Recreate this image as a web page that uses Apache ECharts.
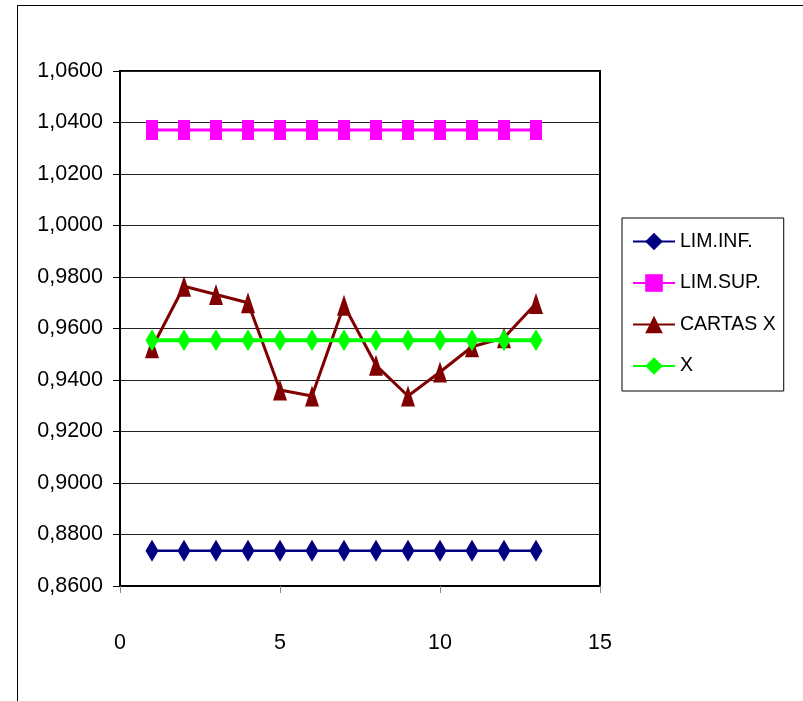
<!DOCTYPE html>
<html>
<head>
<meta charset="utf-8">
<script src="https://cdn.jsdelivr.net/npm/echarts@6/dist/echarts.min.js"></script>
<style>html,body{margin:0;padding:0;background:#fff;}#c{width:803px;height:701px;}</style>
</head>
<body>
<div id="c"></div>
<script>
var xValues = [1, 2, 3, 4, 5, 6, 7, 8, 9, 10, 11, 12, 13];
var limInf = [0.8737, 0.8737, 0.8737, 0.8737, 0.8737, 0.8737, 0.8737, 0.8737, 0.8737, 0.8737, 0.8737, 0.8737, 0.8737];
var limSup = [1.0371, 1.0371, 1.0371, 1.0371, 1.0371, 1.0371, 1.0371, 1.0371, 1.0371, 1.0371, 1.0371, 1.0371, 1.0371];
var cartasX = [0.9525, 0.9764, 0.9732, 0.9700, 0.9361, 0.9338, 0.9690, 0.9457, 0.9338, 0.9431, 0.9529, 0.9564, 0.9697];
var xMedia = [0.9554, 0.9554, 0.9554, 0.9554, 0.9554, 0.9554, 0.9554, 0.9554, 0.9554, 0.9554, 0.9554, 0.9554, 0.9554];
var seriesNames = ['LIM.INF.', 'LIM.SUP.', 'CARTAS X', 'X'];

function pairs(vals) { return xValues.map(function (x, i) { return [x, vals[i]]; }); }

var FONT = "'Liberation Sans', Arial, sans-serif";
var chart = echarts.init(document.getElementById('c'), null, { renderer: 'canvas' });
chart.setOption({
  animation: false,
  backgroundColor: '#fff',
  textStyle: { fontFamily: FONT },
  graphic: [
    { type: 'line', shape: { x1: 17.5, y1: 5, x2: 17.5, y2: 701 }, style: { stroke: '#000', lineWidth: 1 } },
    { type: 'line', shape: { x1: 17, y1: 5.5, x2: 803, y2: 5.5 }, style: { stroke: '#000', lineWidth: 1 } }
  ],
  grid: { left: 120, right: 203, top: 71, bottom: 115, show: true, borderColor: '#000', borderWidth: 2, backgroundColor: 'transparent' },
  legend: {
    orient: 'vertical', left: 622, top: 218,
    padding: [12.5, 8, 14, 10],
    borderColor: '#000', borderWidth: 1,
    itemWidth: 42, itemHeight: 22, itemGap: 19.5, itemTextGap: 6,
    textStyle: { fontFamily: FONT, fontSize: 19.5, color: '#000', lineHeight: 22 },
    data: seriesNames
  },
  xAxis: {
    type: 'value', min: 0, max: 15, interval: 5,
    axisLine: { show: true, lineStyle: { color: '#000', width: 2 } },
    axisTick: { show: true, inside: false, length: 7, lineStyle: { color: '#888', width: 1 } },
    axisLabel: { fontFamily: FONT, fontSize: 21.5, color: '#000', margin: 46 },
    splitLine: { show: false }
  },
  yAxis: {
    type: 'value', min: 0.86, max: 1.06, interval: 0.02,
    axisLine: { show: true, lineStyle: { color: '#000', width: 2 } },
    axisTick: { show: true, inside: false, length: 7, lineStyle: { color: '#000', width: 1 } },
    axisLabel: { fontFamily: FONT, fontSize: 21.5, color: '#000', margin: 17,
      formatter: function (v) { return v.toFixed(4).replace('.', ','); } },
    splitLine: { show: true, lineStyle: { color: '#222', width: 1 } }
  },
  series: [
    { name: seriesNames[0], type: 'line', data: pairs(limInf), color: '#000080',
      symbol: 'diamond', symbolSize: [13, 22], lineStyle: { width: 2.5, color: '#000080' }, itemStyle: { color: '#000080' } },
    { name: seriesNames[1], type: 'line', data: pairs(limSup), color: '#FF00FF',
      symbol: 'rect', symbolSize: [12, 20], lineStyle: { width: 3, color: '#FF00FF' }, itemStyle: { color: '#FF00FF' } },
    { name: seriesNames[2], type: 'line', data: pairs(cartasX), color: '#800000',
      symbol: 'triangle', symbolSize: [14, 21], lineStyle: { width: 3, color: '#800000' }, itemStyle: { color: '#800000' } },
    { name: seriesNames[3], type: 'line', data: pairs(xMedia), color: '#00FF00',
      symbol: 'diamond', symbolSize: [13, 22], lineStyle: { width: 4, color: '#00FF00' }, itemStyle: { color: '#00FF00' } }
  ]
});
</script>
</body>
</html>
